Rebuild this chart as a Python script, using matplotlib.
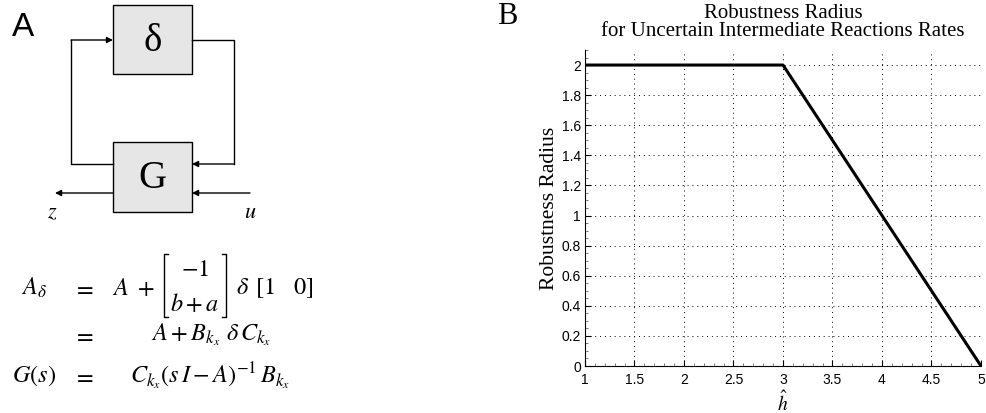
import matplotlib
matplotlib.use('Agg')
import matplotlib.pyplot as plt
import numpy as np

plt.rcParams['mathtext.fontset'] = 'stix'

# panel B data: robustness radius vs h-hat
h_hat = [1, 3, 5]
radius = [2, 2, 0]
x_ticks = [1, 1.5, 2, 2.5, 3, 3.5, 4, 4.5, 5]
y_ticks = [0, 0.2, 0.4, 0.6, 0.8, 1, 1.2, 1.4, 1.6, 1.8, 2]

W, H = 987, 413
fig = plt.figure(figsize=(W / 100, H / 100), dpi=100)

# ---- panel A: block diagram, drawn in pixel coords ----
ax_a = fig.add_axes([0, 0, 1, 1])
ax_a.set_xlim(0, W)
ax_a.set_ylim(H, 0)
ax_a.axis('off')

def box(x0, y0, x1, y1, label):
    ax_a.add_patch(plt.Rectangle((x0, y0), x1 - x0, y1 - y0, fc='#e6e6e6', ec='black', lw=1.0))
    ax_a.text((x0 + x1) / 2, (y0 + y1) / 2 + 2, label, ha='center', va='center',
              fontsize=28, family='Liberation Serif')

def arrow(x0, y0, x1, y1):
    ax_a.annotate('', xy=(x1, y1), xytext=(x0, y0),
                  arrowprops=dict(arrowstyle='-|>', lw=1.0, color='black',
                                  mutation_scale=9, shrinkA=0, shrinkB=0))

box(113, 5, 192, 74, 'δ')
box(113, 142, 192, 212, 'G')

ax_a.plot([113, 71, 71], [164, 164, 40], color='black', lw=1.0)
arrow(71, 40, 113, 40)
ax_a.plot([192, 234, 234], [40, 40, 164], color='black', lw=1.0)
arrow(234, 164, 192, 164)
arrow(113, 193, 55, 193)
arrow(250, 193, 192, 193)
ax_a.text(52, 212, r'$z$', fontsize=16, ha='center', va='center')
ax_a.text(250, 212, r'$u$', fontsize=16, ha='center', va='center')

ax_a.text(23, 27, 'A', fontsize=24, family='Liberation Sans', ha='center', va='center')
ax_a.text(507, 17, 'B', fontsize=22, family='Liberation Serif', ha='center', va='center')

# equations
eq_fs = 17.5
ax_a.text(34, 288, r'$A_{\delta}$', fontsize=eq_fs, ha='center', va='center')
ax_a.text(83, 288, r'$=$', fontsize=eq_fs, ha='center', va='center')
ax_a.text(112, 288, r'$A\ +$', fontsize=eq_fs, ha='left', va='center')
# column vector with square brackets
for bx, sgn in [(164, 1), (226, -1)]:
    ax_a.plot([bx + 4 * sgn, bx, bx, bx + 4 * sgn], [254, 254, 317, 317], color='black', lw=1.0)
ax_a.text(195, 269, r'$-1$', fontsize=eq_fs, ha='center', va='center')
ax_a.text(195, 304, r'$b+a$', fontsize=eq_fs, ha='center', va='center')
ax_a.text(236, 288, r'$\delta\ \,[1\quad 0]$', fontsize=eq_fs, ha='left', va='center')
ax_a.text(83, 335, r'$=$', fontsize=eq_fs, ha='center', va='center')
ax_a.text(211, 335, r'$A+B_{k_x}\ \delta\, C_{k_x}$', fontsize=eq_fs, ha='center', va='center')
ax_a.text(34, 376, r'$G(s)$', fontsize=eq_fs, ha='center', va='center')
ax_a.text(83, 376, r'$=$', fontsize=eq_fs, ha='center', va='center')
ax_a.text(210, 376, r'$C_{k_x}(s\,I-A)^{-1}\,B_{k_x}$', fontsize=eq_fs, ha='center', va='center')

# ---- panel B ----
ax = fig.add_axes([585 / W, 1 - 366 / H, (981 - 585) / W, (366 - 50) / H])
ax.plot(h_hat, radius, color='black', lw=2.2)
ax.set_xlim(1, 5)
ax.set_ylim(0, 2.1)
ax.set_xticks(x_ticks)
ax.set_xticklabels([f'{t:g}' for t in x_ticks], family='Liberation Sans', fontsize=10)
ax.set_yticks(y_ticks)
ax.set_yticklabels([f'{t:g}' for t in y_ticks], family='Liberation Sans', fontsize=10)
ax.minorticks_on()
ax.tick_params(which='both', direction='in')
ax.tick_params(axis='x', which='major', length=4, pad=5)
ax.tick_params(axis='y', which='major', length=4, pad=3)
ax.tick_params(which='minor', length=2, color='0.4')
ax.grid(True, which='major', linestyle=(0, (1, 4)), color='black', lw=0.7)
ax.spines['top'].set_visible(False)
ax.spines['right'].set_visible(False)
ax.set_title('Robustness Radius\nfor Uncertain Intermediate Reactions Rates',
             family='Liberation Serif', fontsize=15, linespacing=0.95, pad=10)
ax.set_ylabel('Robustness Radius', family='Liberation Serif', fontsize=15.5, labelpad=2)
ax.set_xlabel(r'$\hat{h}$', fontsize=14, labelpad=2)

fig.savefig('out.png', dpi=100)
